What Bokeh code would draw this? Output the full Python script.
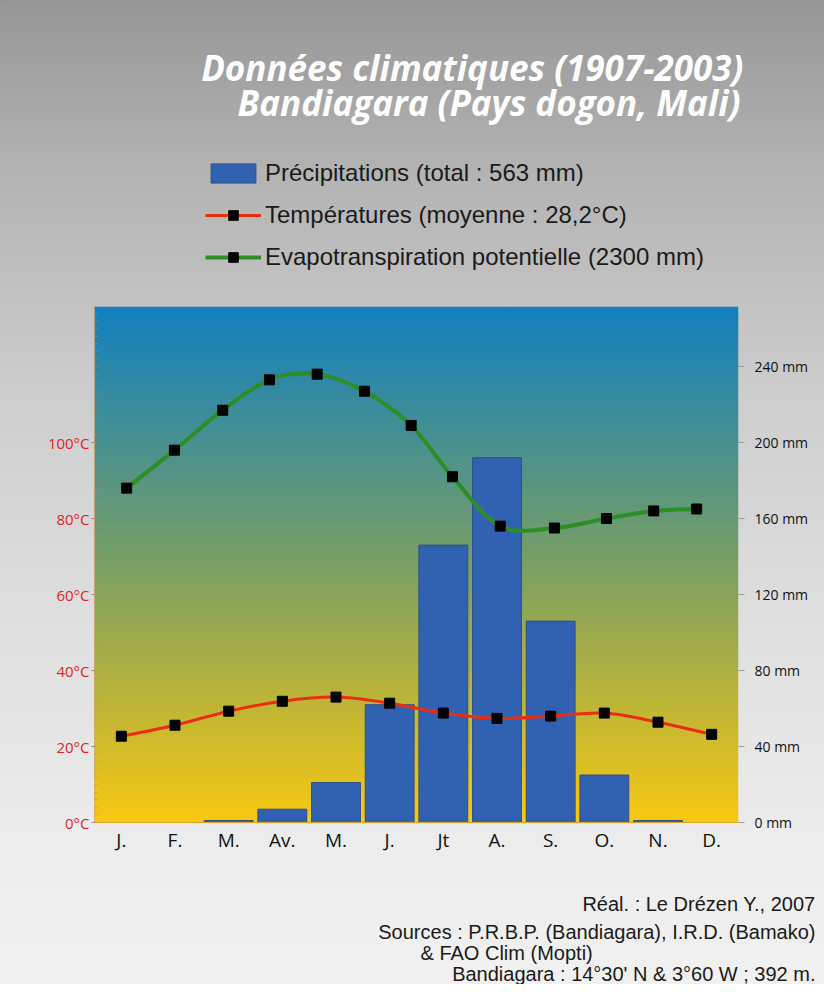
import numpy as np
from bokeh.plotting import figure
from bokeh.layouts import column
from bokeh.models import (Range1d, LinearAxis, FixedTicker, Legend,
                          LegendItem, ColumnDataSource)
from bokeh.core.properties import value
from bokeh.embed import file_html
from bokeh.resources import INLINE

# ---------------- data ----------------
months = ["J.", "F.", "M.", "Av.", "M.", "J.", "Jt", "A.", "S.", "O.", "N.", "D."]
precip_mm = [0, 0, 1, 7, 21, 62, 146, 192, 106, 25, 1, 0]
temp_c = [22.7, 25.6, 29.3, 31.9, 33.0, 31.4, 28.8, 27.4, 28.0, 28.8, 26.4, 23.2]
etp_pos = [0.60, 1.49, 2.39, 3.26, 4.15, 5.03, 5.90, 6.67, 7.56, 8.57, 9.54, 10.42, 11.22]
etp_mm = [176, 196, 217, 233, 236, 227, 209, 182, 156, 155, 160, 164, 165]
temp_ticks = [0, 20, 40, 60, 80, 100]
mm_ticks = [0, 40, 80, 120, 160, 200, 240]

title_1 = "Données  climatiques (1907-2003)"
title_2 = "Bandiagara (Pays dogon, Mali)"
leg_precip = "Précipitations (total : 563 mm)"
leg_temp = "Températures (moyenne : 28,2°C)"
leg_etp = "Evapotranspiration potentielle (2300 mm)"
footer = ["Réal. : Le Drézen Y., 2007",
          "Sources : P.R.B.P. (Bandiagara), I.R.D. (Bamako)",
          "& FAO Clim (Mopti)",
          "Bandiagara : 14°30' N & 3°60 W ; 392 m."]

RED = "#ee2c12"
GREEN = "#2e8d24"
BLUE = "#3162b2"
BAR_LINE = "#2a4f8c"

W = 824
H_HEAD = 300
H_FOOT = 129


def no_align(f):
    if "frame_align" in f.properties():
        f.frame_align = False


def blank(height):
    f = figure(width=W, height=height, x_range=Range1d(0, W), y_range=Range1d(height, 0),
               x_axis_location=None, y_axis_location=None,
               min_border=0, output_backend="svg", toolbar_location=None)
    f.border_fill_color = None
    f.background_fill_color = None
    f.outline_line_color = None
    f.xgrid.visible = False
    f.ygrid.visible = False
    no_align(f)
    return f


# ---------------- header (title + legend) ----------------
head = blank(H_HEAD)
head.text(x=[752, 740], y=[67, 102], text=[title_1, title_2],
          text_font=value("Open Sans"), text_font_style="bold italic",
          text_font_size="35px", text_color="white",
          text_align="right", text_baseline="middle")

# legend proxies (kept outside the visible range)
off = [-50]
px_bar = head.vbar(x=off, top=off, width=1, fill_color=BLUE, line_color=BAR_LINE)
px_tl = head.line(x=off, y=off, line_color=RED, line_width=3)
px_tm = head.scatter(x=off, y=off, marker="square", fill_color="black", line_color="black")
px_el = head.line(x=off, y=off, line_color=GREEN, line_width=4)
px_em = head.scatter(x=off, y=off, marker="square", fill_color="black", line_color="black")

legend = Legend(items=[LegendItem(label=leg_precip, renderers=[px_bar]),
                       LegendItem(label=leg_temp, renderers=[px_tl, px_tm]),
                       LegendItem(label=leg_etp, renderers=[px_el, px_em])],
                location=(205, 29), orientation="vertical",
                label_text_font="Liberation Sans", label_text_font_size="24px",
                label_text_color="#1a1a1a", glyph_width=56, glyph_height=24,
                label_height=24, spacing=14, padding=0, margin=0, label_standoff=4,
                background_fill_alpha=0, border_line_color=None)
head.add_layout(legend, "center")

# ---------------- chart ----------------
YMAX = 135.8
x_cent = np.arange(len(months)) + 0.5

p = figure(x_range=Range1d(0, 12), y_range=Range1d(0, YMAX),
           frame_width=644, frame_height=516,
           min_border_left=94, min_border_right=86,
           min_border_top=6, min_border_bottom=32,
           output_backend="svg", toolbar_location=None)
no_align(p)
p.extra_y_ranges = {"mm": Range1d(0, 2 * YMAX)}
p.border_fill_color = None
p.background_fill_color = None
p.outline_line_color = None
p.xgrid.visible = False
p.ygrid.visible = False

# plot-area gradient (blue top -> yellow bottom)
n = 256
t = np.linspace(0, 1, n)
stops_t = [0.0, 0.5, 1.0]
stops_c = [(248, 200, 18), (122, 160, 100), (18, 128, 192)]
cols = np.stack([np.interp(t, stops_t, [c[k] for c in stops_c]) for k in range(3)], axis=1)
img = np.zeros((n, 1), dtype=np.uint32)
view = img.view(dtype=np.uint8).reshape((n, 1, 4))
for k in range(3):
    view[:, 0, k] = cols[:, k].astype(np.uint8)
view[:, 0, 3] = 255
p.image_rgba(image=[img], x=0, y=0, dw=12, dh=YMAX)

bars = p.vbar(x=x_cent, top=precip_mm, width=0.91, y_range_name="mm",
              fill_color=BLUE, line_color=BAR_LINE, line_width=1)


def smooth(xs, ys):
    xs = np.asarray(xs, float)
    ys = np.asarray(ys, float)
    m = len(xs)
    d = dict(x0=[], y0=[], x1=[], y1=[], cx0=[], cy0=[], cx1=[], cy1=[])
    for i in range(m - 1):
        i0, i3 = max(i - 1, 0), min(i + 2, m - 1)
        d["x0"].append(xs[i]); d["y0"].append(ys[i])
        d["x1"].append(xs[i + 1]); d["y1"].append(ys[i + 1])
        d["cx0"].append(xs[i] + (xs[i + 1] - xs[i0]) / 6)
        d["cy0"].append(ys[i] + (ys[i + 1] - ys[i0]) / 6)
        d["cx1"].append(xs[i + 1] - (xs[i3] - xs[i]) / 6)
        d["cy1"].append(ys[i + 1] - (ys[i3] - ys[i]) / 6)
    return ColumnDataSource(d)


p.bezier(x0="x0", y0="y0", x1="x1", y1="y1", cx0="cx0", cy0="cy0", cx1="cx1", cy1="cy1",
         source=smooth(etp_pos, etp_mm), y_range_name="mm",
         line_color=GREEN, line_width=4, line_cap="round")
p.scatter(etp_pos, etp_mm, marker="square", size=10, y_range_name="mm",
          fill_color="black", line_color="black")

p.bezier(x0="x0", y0="y0", x1="x1", y1="y1", cx0="cx0", cy0="cy0", cx1="cx1", cy1="cy1",
         source=smooth(x_cent, temp_c),
         line_color=RED, line_width=3, line_cap="round")
p.scatter(x_cent, temp_c, marker="square", size=10,
          fill_color="black", line_color="black")

# bottom axis (months)
xa = p.xaxis[0]
xa.ticker = FixedTicker(ticks=list(x_cent))
xa.major_label_overrides = {float(x): m for x, m in zip(x_cent, months)}
xa.major_tick_out = 0
xa.major_tick_in = 0
xa.minor_tick_out = 0
xa.minor_tick_in = 0
xa.axis_line_color = "#e3a228"
xa.major_label_text_font = "Open Sans"
xa.major_label_text_font_size = "19px"
xa.major_label_text_color = "#111111"
xa.major_label_standoff = 4

# left axis (temperature)
ya = p.yaxis[0]
ya.ticker = FixedTicker(ticks=temp_ticks, minor_ticks=list(range(0, 136, 2)))
ya.major_label_overrides = {v: f"{v}°C" for v in temp_ticks}
ya.major_label_text_color = "#e41e26"
ya.major_label_text_font = "Open Sans"
ya.major_label_text_font_size = "15px"
ya.axis_line_color = "#c98a4a"
ya.axis_line_alpha = 0.6
ya.major_tick_line_color = "#a08070"
ya.major_tick_out = 3
ya.major_tick_in = 0
ya.minor_tick_line_color = "#c98a4a"
ya.minor_tick_line_alpha = 0.5
ya.minor_tick_in = 3
ya.minor_tick_out = 0
ya.major_label_standoff = 2

# right axis (mm)
ra = LinearAxis(y_range_name="mm", ticker=FixedTicker(ticks=mm_ticks, minor_ticks=[]))
ra.major_label_overrides = {v: f"{v} mm" for v in mm_ticks}
ra.major_label_text_font = "Open Sans"
ra.major_label_text_font_size = "14px"
ra.major_label_text_color = "#111111"
ra.axis_line_color = None
ra.major_tick_out = 6
ra.major_tick_in = 0
ra.major_tick_line_color = "#9a9a9a"
ra.major_label_standoff = 10
p.add_layout(ra, "right")

# ---------------- footer ----------------
foot = blank(H_FOOT)
foot.text(x=[815, 815, 815], y=[48, 76, 118], text=[footer[0], footer[1], footer[3]],
          text_font=value("Liberation Sans"), text_font_size="20px",
          text_color="#1a1a1a", text_align="right", text_baseline="middle")
foot.text(x=[420], y=[97], text=[footer[2]],
          text_font=value("Liberation Sans"), text_font_size="20px",
          text_color="#1a1a1a", text_align="left", text_baseline="middle")

layout = column(head, p, foot, spacing=0)
layout.styles = {"background": "linear-gradient(to bottom, #969696 0%, #b4b4b4 18%, "
                               "#cdcdcd 40%, #dedede 62%, #ececec 85%, #f1f1f1 100%)"}

open("out.html", "w").write(file_html(layout, INLINE))
